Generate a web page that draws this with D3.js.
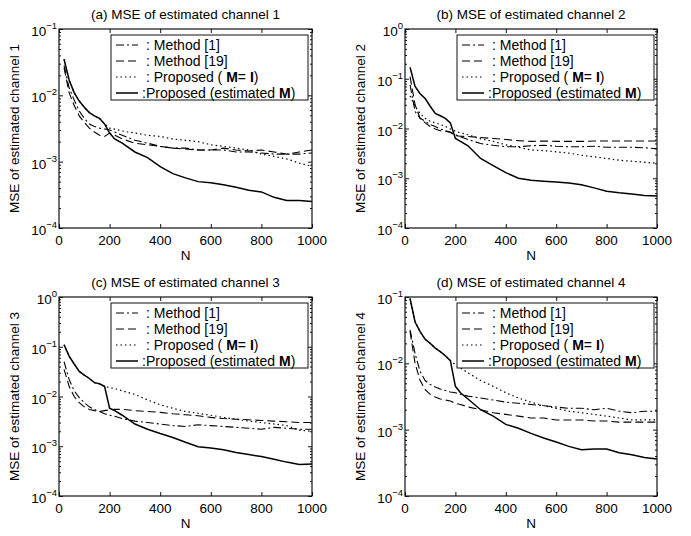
<!DOCTYPE html>
<html>
<head>
<script src="https://cdn.jsdelivr.net/npm/d3@7"></script>
<style>
  body { margin: 0; background: #fff; }
  svg { font-family: "Liberation Sans", Arial, sans-serif; }
  .tick line { stroke: #111; }
  .domain { stroke: none; }
</style>
</head>
<body>
<div id="chart"></div>
<script>
// sample points N
const nVals = [20, 40, 60, 80, 100, 120, 140, 160, 180, 200, 220, 250, 300, 350, 400, 450, 500, 550, 600, 650, 700, 750, 800, 850, 900, 950, 1000];
const xTicks = [0, 200, 400, 600, 800, 1000];
const legendLabels = ["Method [1]", "Method [19]", "Proposed (M=I)", "Proposed (estimated M)"];
const panelTitles = ["(a) MSE of estimated channel 1", "(b) MSE of estimated channel 2",
                     "(c) MSE of estimated channel 3", "(d) MSE of estimated channel 4"];
const yLabels = ["MSE of estimated channel 1", "MSE of estimated channel 2",
                 "MSE of estimated channel 3", "MSE of estimated channel 4"];
const yExpTop = [-1, 0, 0, -1];

// channel 1
const ch1Method1 = [.028, .013, .0085, .0058, .0045, .0037, .0034, .0032, .0031, .0030, .0028, .0025, .0021, .0019, .0017, .0016, .0016, .0015, .0015, .0015, .0014, .0014, .00135, .0013, .0013, .0013, .00135];
const ch1Method19 = [.026, .011, .007, .0049, .0039, .0032, .0028, .0025, .0024, .0027, .0025, .0022, .0019, .0018, .0017, .0016, .00155, .0015, .0015, .0016, .0015, .00145, .0015, .0014, .0013, .0014, .0015];
const ch1PropI = [.035, .017, .011, .0082, .0066, .0055, .0049, .0045, .0037, .0032, .0031, .0029, .0027, .0025, .0024, .0022, .0021, .0020, .0018, .0017, .0016, .0015, .0013, .0012, .0011, .00095, .00085];
const ch1PropM = [.035, .017, .011, .0082, .0066, .0055, .0049, .0045, .0037, .0027, .0022, .0019, .0014, .00115, .00084, .00066, .00057, .00050, .00048, .00045, .00041, .00037, .00035, .00029, .00026, .00026, .00025];

// channel 2
const ch2Method1 = [.075, .022, .016, .014, .012, .011, .0098, .009, .0085, .0075, .0068, .006, .005, .0046, .0043, .0043, .0045, .0046, .0044, .0043, .0043, .0044, .0042, .0042, .0042, .0041, .0039];
const ch2Method19 = [.11, .03, .016, .013, .011, .0098, .009, .0088, .0083, .0072, .0070, .0069, .0066, .0063, .006, .0057, .0055, .0056, .0055, .0055, .0055, .0056, .0056, .0056, .0056, .0056, .0056];
const ch2PropI = [.045, .028, .02, .016, .014, .013, .012, .011, .0098, .0088, .0082, .0075, .0062, .0055, .0047, .0042, .0037, .0036, .0034, .0032, .0029, .0027, .0025, .0023, .0022, .0021, .0020];
const ch2PropM = [.17, .07, .05, .04, .028, .020, .018, .016, .013, .0063, .0055, .0045, .0025, .0018, .0013, .0010, .00091, .00087, .00084, .00080, .00074, .00064, .00055, .00051, .00048, .00045, .00044];

// channel 3
const ch3Method1 = [.05, .022, .013, .0095, .0075, .0062, .0055, .005, .0045, .0042, .004, .0036, .0032, .003, .0028, .0026, .0025, .0027, .0026, .0025, .0024, .0023, .0022, .0024, .0023, .0022, .0022];
const ch3Method19 = [.035, .016, .010, .0075, .0062, .0055, .0052, .005, .0052, .0054, .0055, .0055, .0052, .005, .0048, .0045, .0043, .0041, .0038, .0036, .0035, .0034, .0033, .0032, .0031, .003, .003];
const ch3PropI = [.11, .065, .045, .032, .027, .023, .019, .018, .016, .015, .0145, .013, .011, .0085, .0068, .0058, .005, .0046, .0042, .0038, .0035, .0032, .003, .0028, .0026, .0021, .002];
const ch3PropM = [.11, .065, .045, .032, .027, .023, .019, .018, .016, .0058, .0052, .0042, .0028, .0022, .0018, .0015, .0012, .00098, .00092, .00085, .00075, .00068, .00062, .00055, .00048, .00043, .00044];

// channel 4
const ch4Method1 = [.032, .014, .0075, .0055, .0048, .0044, .0041, .0039, .0037, .0036, .0034, .0032, .003, .0028, .0026, .0025, .0024, .0023, .0022, .0021, .0021, .0020, .0021, .0019, .0018, .0019, .0019];
const ch4Method19 = [.03, .01, .0055, .004, .0034, .0031, .0029, .0028, .0027, .0025, .0024, .0022, .002, .0018, .0017, .0016, .0015, .0015, .0014, .0014, .0014, .00135, .00135, .0013, .0013, .0013, .0013];
const ch4PropI = [.095, .042, .03, .023, .020, .017, .015, .013, .011, .0095, .0085, .0072, .0055, .0045, .0036, .003, .0026, .0023, .0021, .0019, .0018, .0017, .0016, .0015, .0014, .0014, .0014];
const ch4PropM = [.095, .042, .03, .023, .020, .017, .015, .013, .011, .0045, .0036, .0029, .002, .0016, .0012, .00105, .00088, .00075, .00065, .00056, .0005, .00051, .00051, .00045, .00042, .00038, .00036];

const seriesByPanel = [
  [ch1Method1, ch1Method19, ch1PropI, ch1PropM],
  [ch2Method1, ch2Method19, ch2PropI, ch2PropM],
  [ch3Method1, ch3Method19, ch3PropI, ch3PropM],
  [ch4Method1, ch4Method19, ch4PropI, ch4PropM]
];

const dashes = ["8,3,2,3", "8,4", "1.5,3", null];
const widths = [1.1, 1.1, 1.2, 1.5];

const svg = d3.select("#chart").append("svg")
  .attr("width", 691).attr("height", 536);

const boxes = [
  { left: 59, right: 312, top: 29, bottom: 228 },
  { left: 405, right: 657, top: 29, bottom: 228 },
  { left: 59, right: 312, top: 297, bottom: 496 },
  { left: 405, right: 657, top: 297, bottom: 496 }
];

boxes.forEach((b, p) => {
  const x = d3.scaleLinear().domain([0, 1000]).range([b.left, b.right]);
  const y = d3.scaleLog().domain([1e-4, Math.pow(10, yExpTop[p])]).range([b.bottom, b.top]);
  const decades = d3.range(-4, yExpTop[p] + 1).map(e => Math.pow(10, e));
  const minors = [];
  decades.slice(0, -1).forEach(d => { for (let k = 2; k < 10; k++) minors.push(d * k); });

  const g = svg.append("g");

  g.append("clipPath").attr("id", "clip" + p)
    .append("rect").attr("x", b.left).attr("y", b.top)
    .attr("width", b.right - b.left).attr("height", b.bottom - b.top);

  // ticks, pointing inward on all sides
  g.append("g").attr("transform", `translate(0,${b.bottom})`)
    .call(d3.axisBottom(x).tickValues(xTicks).tickSize(-4).tickFormat(""));
  g.append("g").attr("transform", `translate(0,${b.top})`)
    .call(d3.axisTop(x).tickValues(xTicks).tickSize(-4).tickFormat(""));
  g.append("g").attr("transform", `translate(${b.left},0)`)
    .call(d3.axisLeft(y).tickValues(decades).tickSize(-4).tickFormat(""));
  g.append("g").attr("transform", `translate(${b.left},0)`)
    .call(d3.axisLeft(y).tickValues(minors).tickSize(-2).tickFormat(""));
  g.append("g").attr("transform", `translate(${b.right},0)`)
    .call(d3.axisRight(y).tickValues(decades).tickSize(-4).tickFormat(""));
  g.append("g").attr("transform", `translate(${b.right},0)`)
    .call(d3.axisRight(y).tickValues(minors).tickSize(-2).tickFormat(""));

  // lines
  const line = d3.line().x((d, i) => x(nVals[i])).y(d => y(d));
  seriesByPanel[p].forEach((vals, s) => {
    g.append("path")
      .attr("clip-path", `url(#clip${p})`)
      .attr("d", line(vals))
      .attr("fill", "none")
      .attr("stroke", "#000")
      .attr("stroke-width", widths[s])
      .attr("stroke-dasharray", dashes[s]);
  });

  g.append("rect")
    .attr("x", b.left).attr("y", b.top)
    .attr("width", b.right - b.left).attr("height", b.bottom - b.top)
    .attr("fill", "none").attr("stroke", "#111").attr("stroke-width", 1.2);

  // x tick labels
  g.selectAll(".xl").data(xTicks).enter().append("text")
    .attr("x", d => x(d)).attr("y", b.bottom + 17)
    .attr("text-anchor", "middle").attr("font-size", 13.5)
    .text(d => d);
  g.append("text").attr("x", (b.left + b.right) / 2).attr("y", b.bottom + 32)
    .attr("text-anchor", "middle").attr("font-size", 13.5).text("N");

  // y tick labels as 10 with exponent
  decades.forEach(d => {
    const e = Math.round(Math.log10(d));
    const t = g.append("text").attr("x", b.left - 2).attr("y", y(d) + 7)
      .attr("text-anchor", "end").attr("font-size", 13.5);
    t.append("tspan").text("10");
    t.append("tspan").attr("dy", -7).attr("font-size", 9.5).text(e === 0 ? "0" : "\u2212" + (-e));
  });

  // title and y label
  g.append("text").attr("x", (b.left + b.right) / 2).attr("y", b.top - 10)
    .attr("text-anchor", "middle").attr("font-size", 13.5).text(panelTitles[p]);
  g.append("text")
    .attr("transform", `translate(${b.left - 40},${(b.top + b.bottom) / 2}) rotate(-90)`)
    .attr("text-anchor", "middle").attr("font-size", 13.5).text(yLabels[p]);

  // legend
  const lx = b.left + 52, ly = b.top + 6, lw = 197, lh = 65;
  const lg = g.append("g");
  lg.append("rect").attr("x", lx).attr("y", ly).attr("width", lw).attr("height", lh)
    .attr("fill", "#fff").attr("stroke", "#111").attr("stroke-width", 1);
  legendLabels.forEach((lab, s) => {
    const ry = ly + 10 + s * 16;
    lg.append("line").attr("x1", lx + 5).attr("x2", lx + 27).attr("y1", ry).attr("y2", ry)
      .attr("stroke", "#000").attr("stroke-width", widths[s]).attr("stroke-dasharray", dashes[s]);
    const t = lg.append("text").attr("x", lx + (s === 3 ? 31 : 35)).attr("y", ry + 5)
      .attr("font-size", 14);
    if (s === 2) {
      t.append("tspan").text(": Proposed ( ");
      t.append("tspan").attr("font-weight", "bold").text("M");
      t.append("tspan").text("= ");
      t.append("tspan").attr("font-weight", "bold").text("I");
      t.append("tspan").text(")");
    } else if (s === 3) {
      t.append("tspan").text(":Proposed (estimated  ");
      t.append("tspan").attr("font-weight", "bold").text("M");
      t.append("tspan").text(")");
    } else {
      t.text(": " + lab);
    }
  });
});
</script>
</body>
</html>
